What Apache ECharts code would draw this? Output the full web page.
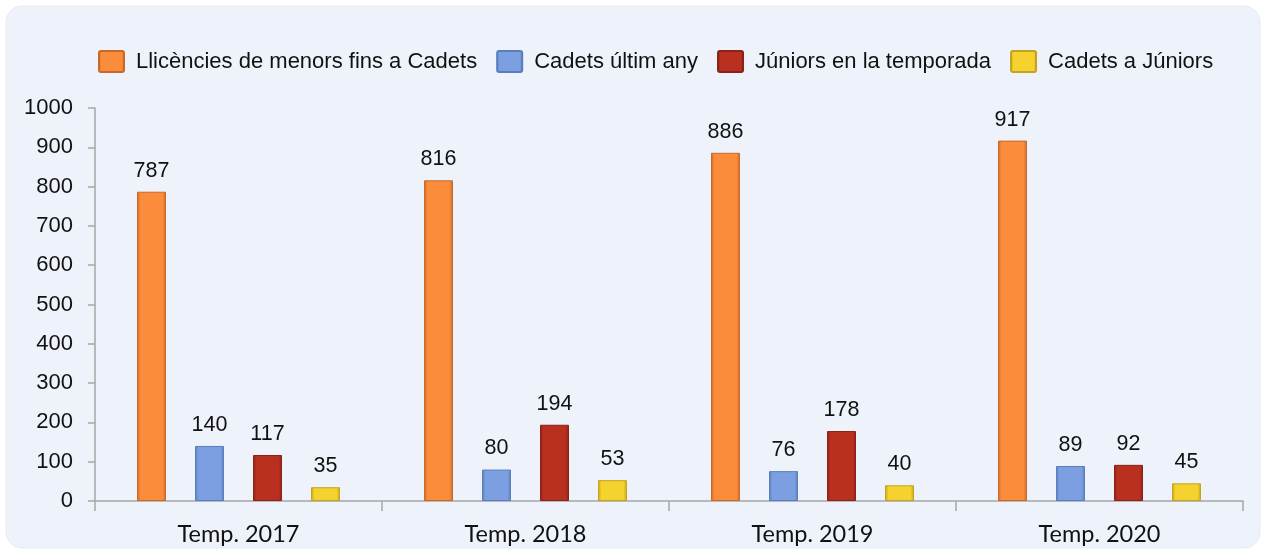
<!DOCTYPE html>
<html><head><meta charset="utf-8">
<script src="https://cdn.jsdelivr.net/npm/echarts@6/dist/echarts.min.js"></script>
<style>html,body{margin:0;padding:0;background:#fff}#c{width:1263px;height:549px}</style>
</head><body><div id="c"></div>
<script>
const categories = ['Temp. 2017', 'Temp. 2018', 'Temp. 2019', 'Temp. 2020'];
const seriesNames = ['Llicències de menors fins a Cadets', 'Cadets últim any', 'Júniors en la temporada', 'Cadets a Júniors'];
const llicencies = [787, 816, 886, 917];
const cadetsUltim = [140, 80, 76, 89];
const juniorsTemp = [117, 194, 178, 92];
const cadetsAJuniors = [35, 53, 40, 45];
const yTicks = [0, 100, 200, 300, 400, 500, 600, 700, 800, 900, 1000];

const colors = [
  {main: '#FB8C3C', light: '#FFA55E', dark: '#C8692A'},
  {main: '#7B9FE0', light: '#9DBBF0', dark: '#5B7DBB'},
  {main: '#B93020', light: '#D24A34', dark: '#8A2216'},
  {main: '#F5D22E', light: '#FBE46A', dark: '#C3A41C'}
];
const data = [llicencies, cadetsUltim, juniorsTemp, cadetsAJuniors];
const ARIAL = "'Liberation Sans', Arial, sans-serif";

const chart = echarts.init(document.getElementById('c'), null, {renderer: 'canvas'});
chart.setOption({
  backgroundColor: '#ffffff',
  animation: false,
  graphic: [{
    type: 'rect', z: -10, silent: true,
    shape: {x: 6, y: 6, width: 1254, height: 542, r: 16},
    style: {fill: '#EEF2FB', stroke: '#E6EAF3', lineWidth: 1}
  }],
  color: colors.map(c => c.main),
  legend: {
    top: 45, left: 93,
    itemWidth: 25, itemHeight: 21, itemGap: 19,
    icon: 'path://M2,0 L23,0 Q25,0 25,2 L25,19 Q25,21 23,21 L2,21 Q0,21 0,19 L0,2 Q0,0 2,0 Z',
    textStyle: {fontFamily: ARIAL, fontSize: 22, color: '#111', padding: [0, 0, 0, 7]},
    data: seriesNames
  },
  grid: {left: 95, right: 20, top: 108, bottom: 48, containLabel: false},
  xAxis: {
    type: 'category', data: categories,
    axisLine: {lineStyle: {color: '#A6A6A6', width: 1.5}},
    axisTick: {show: true, length: 10, lineStyle: {color: '#A6A6A6', width: 1.5}},
    axisLabel: {fontFamily: "Lato, 'Open Sans', sans-serif", fontSize: 23.5, color: '#111', margin: 21}
  },
  yAxis: {
    type: 'value', min: yTicks[0], max: yTicks[yTicks.length - 1], interval: 100,
    axisLine: {show: true, lineStyle: {color: '#A6A6A6', width: 1.5}},
    axisTick: {show: true, length: 7, lineStyle: {color: '#A6A6A6', width: 1.5}},
    splitLine: {show: false},
    axisLabel: {fontFamily: ARIAL, fontSize: 22, color: '#111', margin: 22, formatter: v => String(v)}
  },
  series: data.map((d, i) => ({
    name: seriesNames[i],
    type: 'bar',
    data: d,
    barWidth: 29,
    barGap: '100%',
    itemStyle: {
      color: new echarts.graphic.LinearGradient(0, 0, 1, 0, [
        {offset: 0, color: colors[i].dark},
        {offset: 0.12, color: colors[i].main},
        {offset: 0.88, color: colors[i].main},
        {offset: 1, color: colors[i].dark}
      ]),
      borderColor: colors[i].dark, borderWidth: 1
    },
    label: {
      show: true, position: 'top', distance: 10,
      fontFamily: ARIAL, fontSize: 21.5, color: '#111'
    }
  }))
});
</script></body></html>
